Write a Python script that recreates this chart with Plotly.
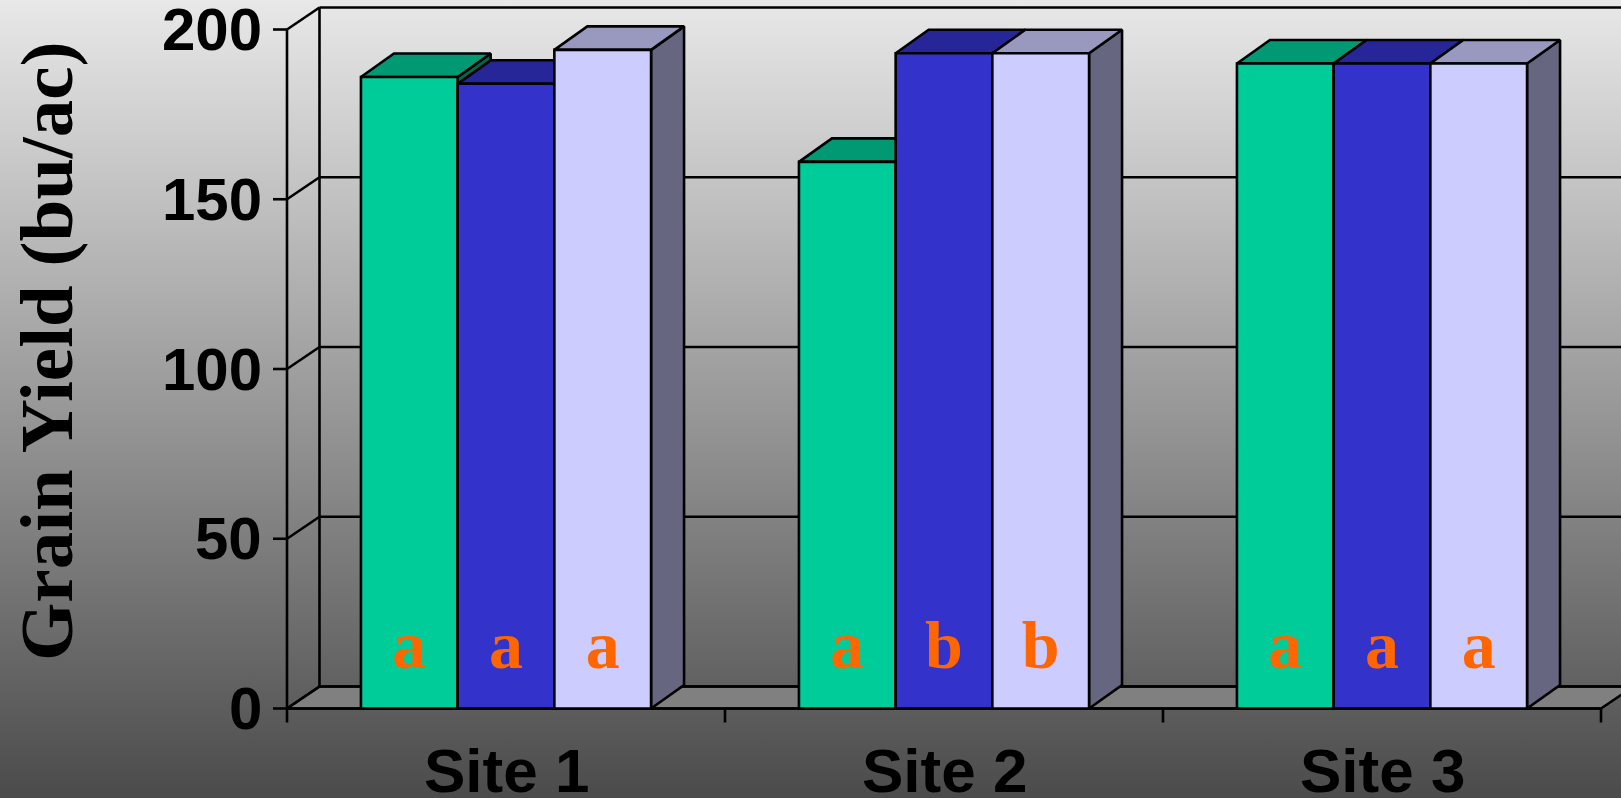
import plotly.graph_objects as go

# ---- data -------------------------------------------------------------
sites = ["Site 1", "Site 2", "Site 3"]
yield_green = [186, 161, 190]
yield_blue = [184, 193, 190]
yield_lavender = [194, 193, 190]
letters_green = ["a", "a", "a"]
letters_blue = ["a", "b", "a"]
letters_lavender = ["a", "b", "a"]
y_ticks = [0, 50, 100, 150, 200]

# ---- styling ----------------------------------------------------------
FRONT = ["#00CC99", "#3333CC", "#CCCCFF"]
TOP = ["#009973", "#262699", "#9999BF"]
SIDE = ["#00664C", "#1A1A66", "#666680"]
LETTER_COLOR = "#FF6600"
EDGE = "black"
LW = 2.6

W, H = 1621, 798
# pixel geometry of the chart frame
CAT_PX = 438.0          # width of one category slot
CAT0_PX = 506.0         # x pixel of first category centre
UNIT_PX = 3.395         # pixels per bu/ac
ZERO_PX = 708.5         # y pixel of the value 0

x_range = [(0 - CAT0_PX) / CAT_PX, (W - CAT0_PX) / CAT_PX]
y_range = [(ZERO_PX - H) / UNIT_PX, ZERO_PX / UNIT_PX]


def dxu(px):
    return px / CAT_PX


def dyu(px):
    return px / UNIT_PX


WALL_DX, WALL_DY = dxu(32.5), dyu(22)
BAR_DX, BAR_DY = dxu(33), dyu(23.5)
BAR_W = dxu(96.7)
Y_MAX = y_ticks[-1]
X_LEFT, X_RIGHT = -0.5, len(sites) - 0.5

fig = go.Figure()

# background gradient
fig.add_trace(go.Scatter(
    x=[x_range[0], x_range[1], x_range[1], x_range[0], x_range[0]],
    y=[y_range[0], y_range[0], y_range[1], y_range[1], y_range[0]],
    mode="lines", fill="toself", line=dict(width=0),
    fillgradient=dict(type="vertical",
                      colorscale=[[0, "#4b4b4b"], [1, "#e8e8e8"]]),
    hoverinfo="skip", showlegend=False))

# floor
fig.add_trace(go.Scatter(
    x=[X_LEFT, X_RIGHT, X_RIGHT + WALL_DX, X_LEFT + WALL_DX, X_LEFT],
    y=[0, 0, WALL_DY, WALL_DY, 0],
    mode="lines", fill="toself", fillcolor="#808080",
    line=dict(color=EDGE, width=LW), hoverinfo="skip", showlegend=False))

# walls, gridlines and ticks
lx, ly = [], []


def seg(x0, y0, x1, y1):
    lx.extend([x0, x1, None])
    ly.extend([y0, y1, None])


for v in y_ticks:
    seg(X_LEFT, v, X_LEFT + WALL_DX, v + WALL_DY)              # side wall
    seg(X_LEFT + WALL_DX, v + WALL_DY, X_RIGHT + WALL_DX + 0.2, v + WALL_DY)  # back wall
    seg(X_LEFT - dxu(14), v, X_LEFT, v)                        # y tick
seg(X_LEFT, 0, X_LEFT, Y_MAX)
seg(X_LEFT + WALL_DX, WALL_DY, X_LEFT + WALL_DX, Y_MAX + WALL_DY)
seg(X_LEFT, 0, X_RIGHT, 0)
for i in range(len(sites) + 1):
    seg(X_LEFT + i, 0, X_LEFT + i, -dyu(14))                   # x ticks
fig.add_trace(go.Scatter(x=lx, y=ly, mode="lines",
                         line=dict(color=EDGE, width=LW),
                         hoverinfo="skip", showlegend=False))


def poly(xs, ys, color):
    fig.add_trace(go.Scatter(
        x=xs + [xs[0]], y=ys + [ys[0]], mode="lines", fill="toself",
        fillcolor=color, line=dict(color=EDGE, width=LW),
        hoverinfo="skip", showlegend=False))


series = [yield_green, yield_blue, yield_lavender]
letters = [letters_green, letters_blue, letters_lavender]

# bars, painted left to right
for i, site in enumerate(sites):
    for k, vals in enumerate(series):
        v = vals[i]
        x0 = i - 1.5 * BAR_W + k * BAR_W
        x1 = x0 + BAR_W
        poly([x1, x1 + BAR_DX, x1 + BAR_DX, x1],
             [0, BAR_DY, v + BAR_DY, v], SIDE[k])
        poly([x0, x1, x1 + BAR_DX, x0 + BAR_DX],
             [v, v, v + BAR_DY, v + BAR_DY], TOP[k])
        poly([x0, x1, x1, x0], [0, 0, v, v], FRONT[k])

# significance letters
LETTER_Y = 17
for k, labs in enumerate(letters):
    xs = [i - BAR_W + k * BAR_W for i in range(len(sites))]
    fig.add_trace(go.Scatter(
        x=xs, y=[LETTER_Y] * len(sites), mode="text",
        text=[f"<b>{t}</b>" for t in labs], textposition="middle center",
        textfont=dict(family="Liberation Serif, Times New Roman, serif",
                      size=68, color=LETTER_COLOR),
        hoverinfo="skip", showlegend=False))

annotations = []
for v in y_ticks:
    annotations.append(dict(
        x=X_LEFT - dxu(23), y=v, xref="x", yref="y", text=f"<b>{v}</b>",
        showarrow=False, xanchor="right", yanchor="middle",
        font=dict(family="Liberation Sans, Arial, sans-serif", size=60,
                  color="black")))
for i, s in enumerate(sites):
    annotations.append(dict(
        x=i, y=-dyu(62), xref="x", yref="y", text=f"<b>{s}</b>",
        showarrow=False, xanchor="center", yanchor="middle",
        font=dict(family="Liberation Sans, Arial, sans-serif", size=62,
                  color="black")))
annotations.append(dict(
    x=(46 - CAT0_PX) / CAT_PX, y=(ZERO_PX - 352) / UNIT_PX, xref="x", yref="y",
    text="<b>Grain Yield (bu/ac)</b>", textangle=-90, showarrow=False,
    xanchor="center", yanchor="middle",
    font=dict(family="Liberation Serif, Times New Roman, serif", size=75,
              color="black")))

fig.update_layout(
    width=W, height=H, margin=dict(l=0, r=0, t=0, b=0),
    paper_bgcolor="#4b4b4b", plot_bgcolor="rgba(0,0,0,0)",
    xaxis=dict(range=x_range, visible=False, domain=[0, 1], fixedrange=True),
    yaxis=dict(range=y_range, visible=False, domain=[0, 1], fixedrange=True),
    annotations=annotations, showlegend=False, hovermode=False)

fig.write_html("out.html")
